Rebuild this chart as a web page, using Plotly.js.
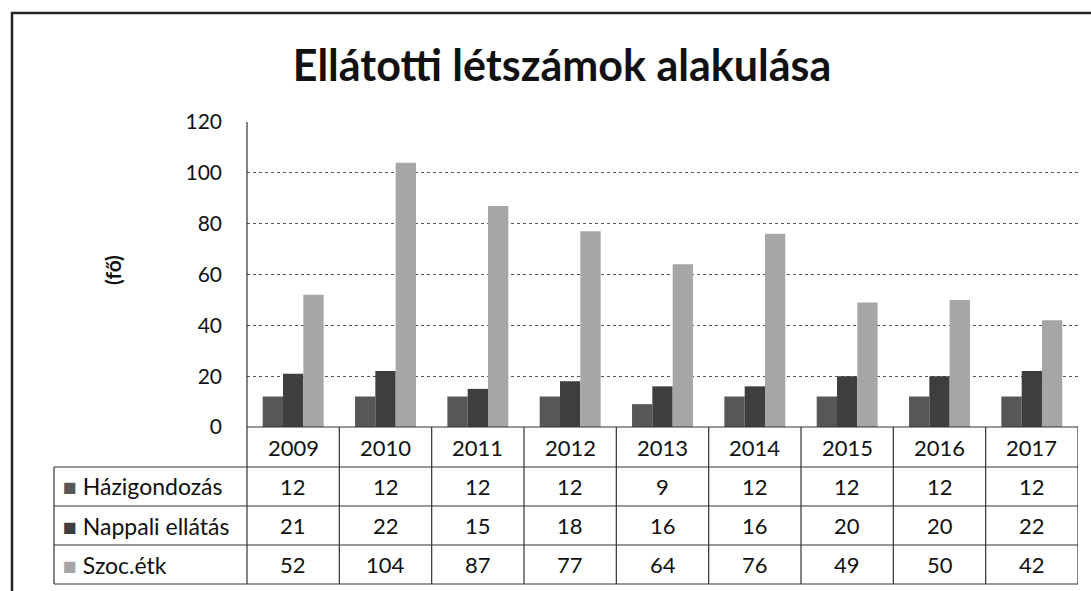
<!DOCTYPE html>
<html><head><meta charset="utf-8">
<script src="https://cdn.plot.ly/plotly-3.0.1.min.js"></script>
<style>html,body{margin:0;padding:0;background:#fff;}#chart{width:1091px;height:591px;}</style>
</head><body><div id="chart"></div>
<script>
const years = ['2009','2010','2011','2012','2013','2014','2015','2016','2017'];
const seriesNames = ['Házigondozás','Nappali ellátás','Szoc.étk'];
const hazigondozas = [12,12,12,12,9,12,12,12,12];
const nappali = [21,22,15,18,16,16,20,20,22];
const szoc = [52,104,87,77,64,76,49,50,42];
const colors = ['#575757','#3e3e3e','#a6a6a6'];
const values = [hazigondozas, nappali, szoc];

const W = 1091, H = 591;
const L = 247, R = 1078, T = 122, B = 427;
const pw = R - L, ph = B - T;
const px = x => (x - L) / pw;
const py = y => (B - y) / ph;
const font = 'Lato, "Open Sans", sans-serif';

const traces = values.map((v, i) => ({
  type: 'bar', name: seriesNames[i], x: years, y: v,
  marker: {color: colors[i], line: {width: 0}},
  showlegend: false, hoverinfo: 'x+y'
}));

const shapes = [];
const annotations = [];
const line = {color: '#333', width: 1.2};
// outer frame
shapes.push({type:'rect', xref:'paper', yref:'paper', x0:px(12), x1:px(1100), y0:py(600), y1:py(13), line:{color:'#222', width:2.5}});
// table horizontal lines
const rowLines = [467, 506, 545, 584];
rowLines.forEach(y => shapes.push({type:'line', xref:'paper', yref:'paper', x0:px(54), x1:1, y0:py(y), y1:py(y), line}));
// x-axis line
shapes.push({type:'line', xref:'paper', yref:'paper', x0:0, x1:1, y0:0, y1:0, line});
// vertical lines
shapes.push({type:'line', xref:'paper', yref:'paper', x0:0, x1:0, y0:py(584), y1:1, line});
shapes.push({type:'line', xref:'paper', yref:'paper', x0:px(54), x1:px(54), y0:py(584), y1:py(467), line});
for (let i = 1; i <= years.length; i++) {
  shapes.push({type:'line', xref:'x', yref:'paper', x0:i-0.5, x1:i-0.5, y0:py(584), y1:0, line});
}
const txt = (size) => ({family:font, size, color:'#111'});
// category header
years.forEach((yr, i) => annotations.push({xref:'x', yref:'paper', x:i, y:py(447), xanchor:'center', yanchor:'middle', text:yr, showarrow:false, font:txt(22)}));
// rows
const rowCenters = [486, 525.5, 564.5];
values.forEach((v, r) => {
  annotations.push({xref:'paper', yref:'paper', x:px(61), y:py(rowCenters[r]), xanchor:'left', yanchor:'middle', showarrow:false,
    text:'<span style="color:' + colors[r] + '">■</span> ' + seriesNames[r], font:txt(23)});
  v.forEach((val, i) => annotations.push({xref:'x', yref:'paper', x:i, y:py(rowCenters[r]), xanchor:'center', yanchor:'middle', text:String(val), showarrow:false, font:txt(22)}));
});
// y-axis title
annotations.push({xref:'paper', yref:'paper', x:px(112), y:py(270), xanchor:'center', yanchor:'middle', text:'<b>(fő)</b>', textangle:-90, showarrow:false, font:txt(21)});

const layout = {
  width: W, height: H,
  margin: {l: L, r: W - R, t: T, b: H - B, pad: 0},
  paper_bgcolor: '#fff', plot_bgcolor: '#fff',
  title: {text: '<b>Ellátotti létszámok alakulása</b>', x: 562/W, xref:'container', xanchor:'center', y: 1 - 66/H, yref:'container', yanchor:'middle', font:txt(43)},
  barmode: 'group', bargap: 0.34, bargroupgap: 0,
  xaxis: {type:'category', range:[-0.5, years.length - 0.5], autorange:false, showticklabels:false, showgrid:false, zeroline:false, showline:false, ticks:''},
  yaxis: {range:[0,120], autorange:false, dtick:20, tick0:0, showgrid:true, gridcolor:'#555', griddash:'dot', gridwidth:1, zeroline:false, showline:false, ticks:'', ticklabelstandoff: 24,
    tickfont:txt(21)},
  shapes, annotations
};
Plotly.newPlot('chart', traces, layout, {displayModeBar:false, staticPlot:true});
</script></body></html>
